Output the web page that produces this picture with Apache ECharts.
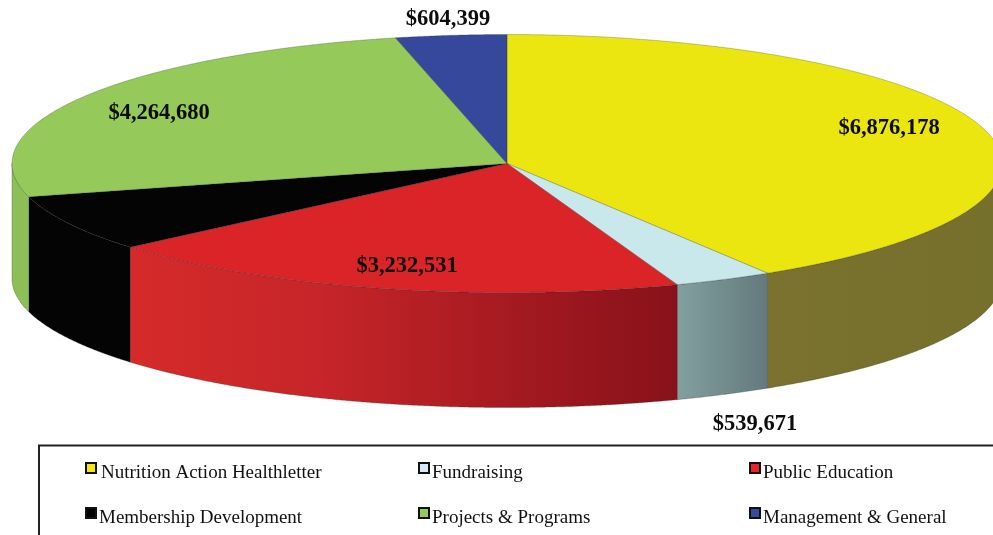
<!DOCTYPE html>
<html>
<head>
<meta charset="utf-8">
<style>html,body{margin:0;padding:0;background:#fff;overflow:hidden}#main{width:993px;height:535px}</style>
<script src="https://cdn.jsdelivr.net/npm/echarts@6/dist/echarts.min.js"></script>
</head>
<body>
<div id="main"></div>
<script>
// data, clockwise from 12 o'clock
var names = ['Nutrition Action Healthletter', 'Fundraising', 'Public Education', 'Membership Development', 'Projects & Programs', 'Management & General'];
var values = [6876178, 539671, 3232531, 1180000, 4264680, 604399];
var showLabel = [true, true, true, false, true, true];

// colours
var topColors = ['#ebe60f', '#c9e8ec', '#da2428', '#040404', '#95c959', '#35489c'];
var wallStops = [
    [[0, '#7a722e'], [1, '#75702c']],
    [[0, '#82a09f'], [1, '#64797d']],
    [[0, '#d62a2a'], [0.35, '#c62529'], [0.75, '#a0181f'], [1, '#88111a']],
    [[0, '#040404'], [1, '#040404']],
    [[0, '#8cbf58'], [1, '#8cbf58']],
    [[0, '#35489c'], [1, '#35489c']]
];
var legendSwatch = ['#f5e614', '#d3ebf4', '#e4252a', '#000000', '#95c959', '#324ca0'];

// pie layout (pixels)
var cx = 507, cy = 163.5, rx = 495, ry = 129, depth = 115;
var labelPos = [[889, 128], [755, 424], [407, 266], null, [159, 113], [448, 19]];

var total = values.reduce(function (a, b) { return a + b; }, 0);

function pt(a, dy) {
    return [cx + rx * Math.sin(a), cy - ry * Math.cos(a) + (dy || 0)];
}

function arc(a0, a1, dy) {
    var pts = [];
    var n = Math.max(2, Math.ceil(Math.abs(a1 - a0) / 0.004));
    for (var i = 0; i <= n; i++) {
        pts.push(pt(a0 + (a1 - a0) * i / n, dy));
    }
    return pts;
}

function renderSlice(idx) {
    return function () {
        var before = 0;
        for (var i = 0; i < idx; i++) before += values[i];
        var a0 = before / total * Math.PI * 2;
        var a1 = (before + values[idx]) / total * Math.PI * 2;
        var kids = [];

        // outer wall only on the front half of the disc
        var w0 = Math.max(a0, Math.PI / 2), w1 = Math.min(a1, Math.PI * 1.5);
        if (w1 > w0) {
            var upper = arc(w0, w1, 0);
            var lower = arc(w1, w0, depth);
            var xs = upper.concat(lower).map(function (p) { return p[0]; });
            var minX = Math.min.apply(null, xs), maxX = Math.max.apply(null, xs);
            kids.push({
                type: 'polygon',
                shape: { points: upper.concat(lower) },
                style: {
                    fill: new echarts.graphic.LinearGradient(minX, 0, maxX, 0, wallStops[idx].map(function (s) {
                        return { offset: s[0], color: s[1] };
                    }), true),
                    stroke: 'rgba(40,40,30,0.45)',
                    lineWidth: 0.6
                }
            });
        }

        // top face
        kids.push({
            type: 'polygon',
            shape: { points: [[cx, cy]].concat(arc(a0, a1, 0)) },
            style: { fill: topColors[idx], stroke: 'rgba(50,50,40,0.45)', lineWidth: 0.6 }
        });

        return { type: 'group', children: kids };
    };
}

var myChart = echarts.init(document.getElementById('main'));

var series = names.map(function (name, i) {
    return {
        name: name,
        type: 'custom',
        coordinateSystem: 'none',
        silent: true,
        animation: false,
        z: 2,
        itemStyle: { color: legendSwatch[i] },
        renderItem: renderSlice(i),
        data: [[values[i]]]
    };
});

// text sits a little under the swatch in the original
var legendFont = { fontFamily: 'Liberation Serif', fontSize: 19, lineHeight: 21, color: '#111' };

function legendCol(left, items) {
    return {
        left: left,
        top: 453.5,
        orient: 'vertical',
        icon: 'rect',
        itemWidth: 10,
        itemHeight: 10,
        itemGap: 16,
        selectedMode: false,
        padding: 0,
        data: items,
        itemStyle: { borderColor: '#111', borderWidth: 2 },
        formatter: function (name) {
            return '{' + (name === names[0] ? 'a' : 'b') + '|' + name + '}';
        },
        textStyle: {
            rich: {
                a: Object.assign({ padding: [10, 0, 0, 0] }, legendFont),
                b: Object.assign({ padding: [10, 0, 0, -2] }, legendFont)
            }
        }
    };
}

var graphics = [{
    type: 'rect',
    silent: true,
    shape: { x: 39, y: 445.5, width: 1000, height: 200 },
    style: { fill: 'none', stroke: '#222', lineWidth: 2 }
}];

values.forEach(function (v, i) {
    if (!showLabel[i]) return;
    graphics.push({
        type: 'text',
        silent: true,
        z: 10,
        x: labelPos[i][0],
        y: labelPos[i][1],
        style: {
            text: '$' + v.toLocaleString('en-US'),
            fontFamily: 'Liberation Serif',
            fontWeight: 'bold',
            fontSize: 22.5,
            fill: '#0c0c0c',
            align: 'center',
            verticalAlign: 'middle'
        }
    });
});

myChart.setOption({
    backgroundColor: '#fff',
    animation: false,
    legend: [
        legendCol(85, [names[0], names[3]]),
        legendCol(418, [names[1], names[4]]),
        legendCol(749, [names[2], names[5]])
    ],
    graphic: graphics,
    series: series
});
</script>
</body>
</html>
